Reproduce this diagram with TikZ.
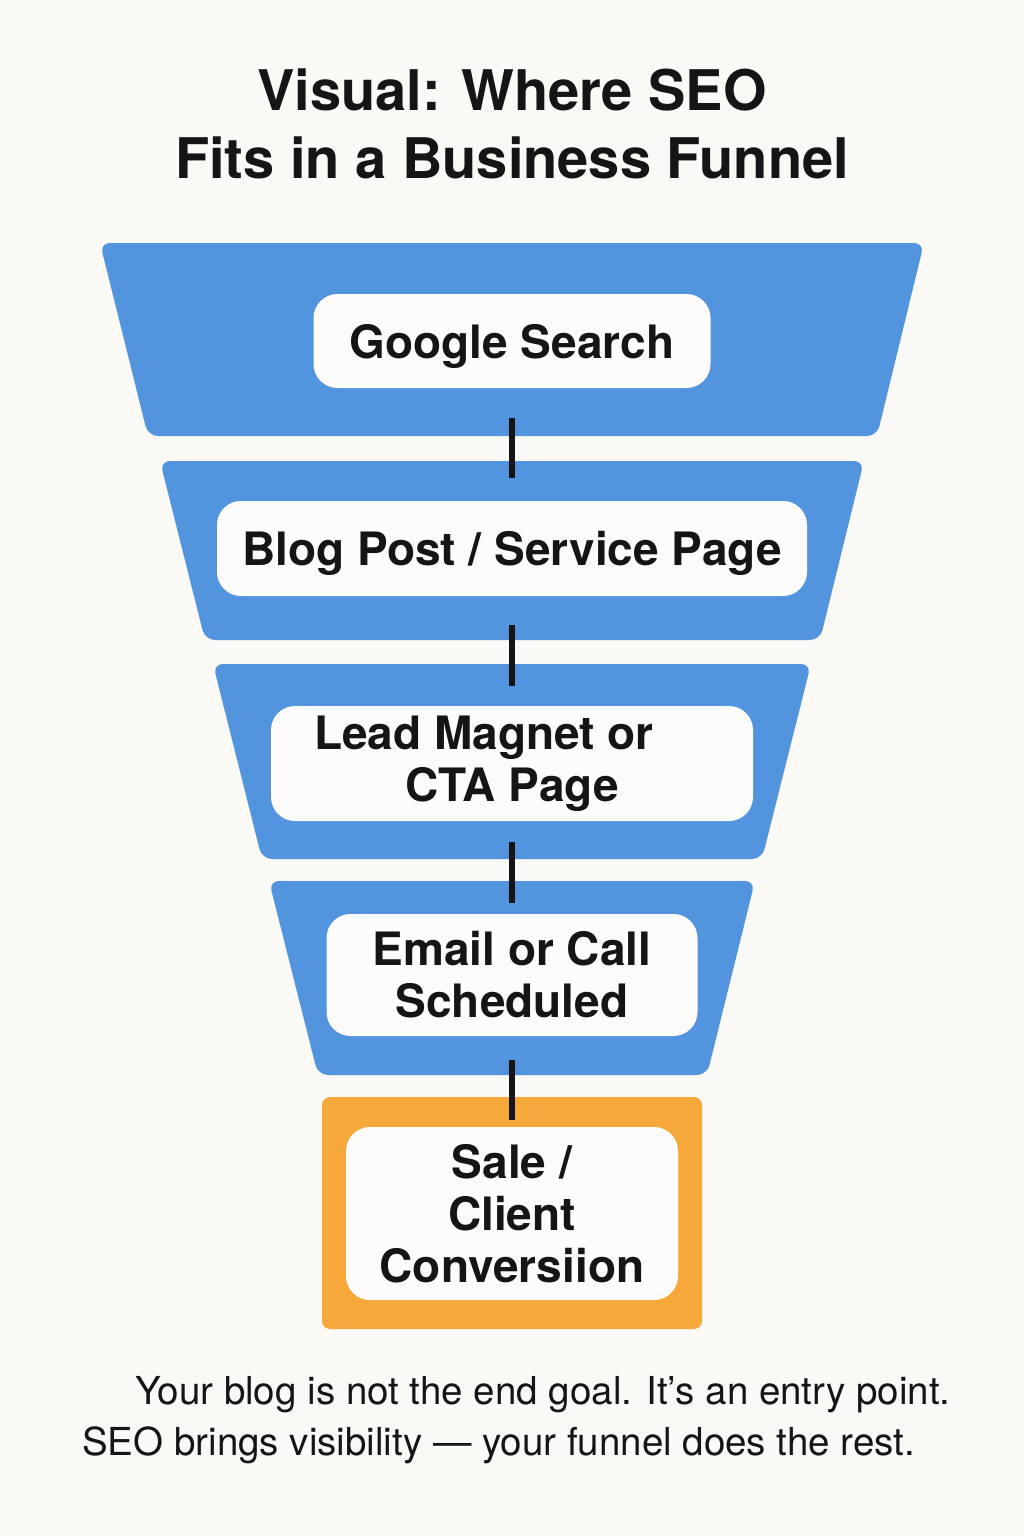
\documentclass[tikz,border=0pt]{standalone}
\usepackage{fontspec}
\setmainfont{TeX Gyre Heros}
\usetikzlibrary{arrows}
\definecolor{funnelblue}{HTML}{5294DE}
\definecolor{saleorange}{HTML}{F7A83B}
\definecolor{paper}{HTML}{FAF9F6}
\definecolor{cardwhite}{HTML}{FDFCFA}
\definecolor{ink}{HTML}{151515}

\begin{document}
\begin{tikzpicture}[x=1pt,y=-1pt,node distance=212pt,semithick]
  \tikzstyle{stage}=[fill=funnelblue,rounded corners=10pt]
  \tikzstyle{card}=[rectangle,fill=cardwhite,rounded corners=24pt,inner sep=0pt,text=ink,
                    align=center,font=\bfseries\fontsize{46}{52}\selectfont]
  \tikzstyle{link}=[-,draw=ink,line width=5.5pt]
  \tikzstyle{note}=[anchor=base west,inner sep=0pt,text=ink,font=\fontsize{38.5}{46}\selectfont]

  \fill[paper] (0,0) rectangle (1024,1536);
  \useasboundingbox (0,0) rectangle (1024,1536);

  \node[text=ink,align=center,font=\bfseries\fontsize{56}{68}\selectfont] (title) at (512,124)
       {Visual: Where SEO\\Fits in a Business Funnel};

  % funnel stages
  \fill[stage] (100,243) -- (924,243) -- (877,436) -- (148,436) -- cycle;
  \fill[stage] (160,461) -- (864,461) -- (820,640) -- (205,640) -- cycle;
  \fill[stage] (213,664) -- (811,664) -- (762,859) -- (262,859) -- cycle;
  \fill[stage] (269,881) -- (755,881) -- (707,1075) -- (318,1075) -- cycle;
  \fill[saleorange,rounded corners=8pt] (322,1097) rectangle (702,1329);

  \node[card,minimum width=397pt,minimum height=94pt,text depth=0pt] (search) at (512,341)   {Google Search};
  \node[card,minimum width=590pt,minimum height=95pt,text depth=0pt] (blog)   [below of=search,node distance=207.5pt] {Blog Post / Service Page};
  \node[card,minimum width=482pt,minimum height=115pt] (lead)   [below of=blog,node distance=215pt]   {Lead Magnet or\hspace*{56pt}\\CTA Page};
  \node[card,minimum width=371pt,minimum height=122pt] (email)  [below of=lead,node distance=211.5pt] {Email or Call\\Scheduled};
  \node[card,minimum width=332pt,minimum height=173pt] (sale)   [below of=email,node distance=238.5pt] {Sale /\\Client\\Conversiion};

  \path (search) edge [link,shorten <=30pt,shorten >=23pt] (blog)
        (blog)   edge [link,shorten <=29pt,shorten >=20pt] (lead)
        (lead)   edge [link,shorten <=21pt,shorten >=11pt] (email)
        (email)  edge [link,shorten <=24pt,shorten >=7pt]  (sale);

  \node[note] (goal) at (135,1404) {Your blog is not the end goal. It’s an entry point.};
  \node[note] (rest) at (82,1455)  {SEO brings visibility — your funnel does the rest.};
\end{tikzpicture}
\end{document}
